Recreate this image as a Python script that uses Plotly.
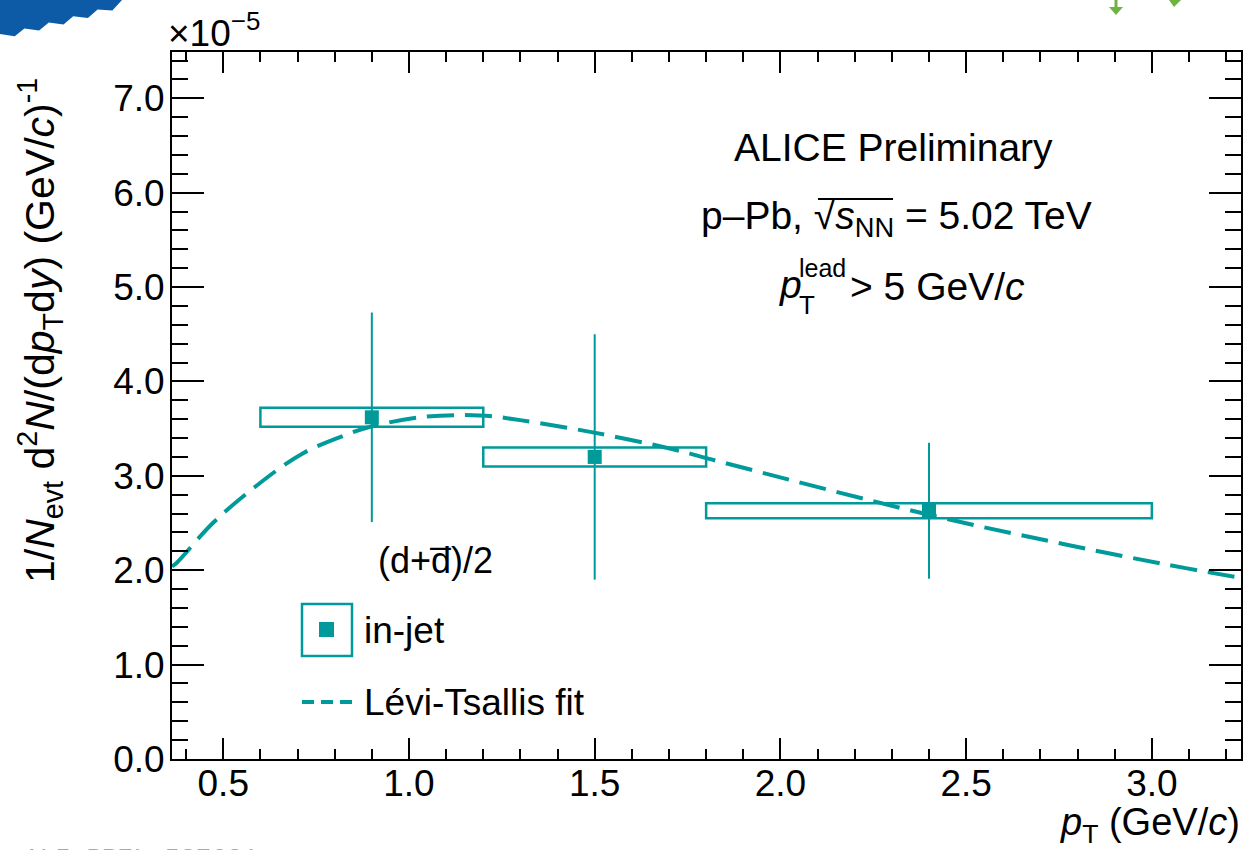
import plotly.graph_objects as go

# ---- data (yields in units of 1e-5 (GeV/c)^-1) ----
pt = [0.9, 1.5, 2.4]
pt_low = [0.6, 1.2, 1.8]
pt_high = [1.2, 1.8, 3.0]
yield_e5 = [3.62, 3.20, 2.63]
stat_err = [1.11, 1.30, 0.72]
syst_err = [0.10, 0.10, 0.08]

# Levy-Tsallis fit curve, sampled
fit_pt = [0.362, 0.375, 0.472, 0.591, 0.715, 0.841, 0.896, 1.029, 1.191,
          1.299, 1.495, 1.702, 1.837, 2.397, 2.771, 3.040, 3.223, 3.240]
fit_y = [2.04, 2.08, 2.50, 2.90, 3.24, 3.45, 3.52, 3.62, 3.64,
         3.59, 3.46, 3.29, 3.15, 2.59, 2.27, 2.06, 1.93, 1.92]

x_ticks = [0.5, 1.0, 1.5, 2.0, 2.5, 3.0]
y_ticks = [0, 1, 2, 3, 4, 5, 6, 7]

TEAL = "#009a9a"
FONT = "Liberation Sans, Arial, sans-serif"

W, H = 1255, 850
L, R, T, B = 172, 1241, 52, 759


def px(x):
    return (x - L) / (R - L)


def py(y):
    return (B - y) / (B - T)


fig = go.Figure()

# fit curve
fig.add_trace(go.Scatter(
    x=fit_pt, y=fit_y, mode="lines",
    line=dict(color=TEAL, width=4, dash="27px,11px", shape="spline"),
    hoverinfo="skip", showlegend=False))

# points with statistical errors
fig.add_trace(go.Scatter(
    x=pt, y=yield_e5, mode="markers",
    marker=dict(symbol="square", size=14, color=TEAL),
    error_y=dict(type="data", array=stat_err, color=TEAL, thickness=2, width=0),
    hoverinfo="skip", showlegend=False))

# systematic boxes
for lo, hi, yv, s in zip(pt_low, pt_high, yield_e5, syst_err):
    fig.add_shape(type="rect", xref="x", yref="y", x0=lo, x1=hi, y0=yv - s, y1=yv + s,
                  line=dict(color=TEAL, width=2.5), fillcolor="rgba(0,0,0,0)", layer="below")

annotations = []


def text(x, y, s, size=37, xanchor="center", yanchor="middle", color="black", family=FONT, angle=0):
    annotations.append(dict(
        x=px(x), y=py(y), xref="paper", yref="paper", text=s, showarrow=False,
        xanchor=xanchor, yanchor=yanchor, textangle=angle,
        font=dict(size=size, color=color, family=family)))


def hline(x0, x1, y, color="black", width=2):
    fig.add_shape(type="line", xref="paper", yref="paper", x0=px(x0), x1=px(x1), y0=py(y), y1=py(y),
                  line=dict(color=color, width=width))


# header texts
text(893, 147, "ALICE Preliminary", size=39)
text(896, 218, "p\u2013Pb, \u221a<i>s</i><sub>NN</sub> = 5.02 TeV", size=39)
hline(818, 893, 199)  # radical bar over s_NN
text(790, 284, "<i>p</i>", size=39)
text(797, 268, "lead", size=25, xanchor="left")
text(797, 305, "T", size=26, xanchor="left")
text(1027, 286, "> 5 GeV/<i>c</i>", size=39, xanchor="right")

# legend
text(435, 560, "(d+d\u0305)/2", size=36)
fig.add_shape(type="rect", xref="paper", yref="paper", x0=px(302), x1=px(352), y0=py(656), y1=py(604),
              line=dict(color=TEAL, width=2.5))
fig.add_shape(type="rect", xref="paper", yref="paper", x0=px(319), x1=px(334), y0=py(637), y1=py(622),
              line=dict(width=0), fillcolor=TEAL)
text(362, 630, "in-jet", size=37, xanchor="left")
fig.add_shape(type="line", xref="paper", yref="paper", x0=px(302), x1=px(352), y0=py(702), y1=py(702),
              line=dict(color=TEAL, width=4, dash="12px,7px"))
text(362, 702, "L\u00e9vi-Tsallis fit", size=37, xanchor="left")

# axis titles and exponent
text(40, 331, "1/<i>N</i><sub>evt</sub> d<sup>2</sup><i>N</i>/(d<i>p</i><sub>T</sub>d<i>y</i>) (GeV/<i>c</i>)<sup>-1</sup>",
     size=41, angle=-90)
text(1242, 825, "<i>p</i><sub>T</sub> (GeV/<i>c</i>)", size=38, xanchor="right")
text(166, 30, "\u00d710<sup>\u22125</sup>", size=37, xanchor="left")

# preliminary figure id
text(22, 842, "ALI-PREL-537631", size=26, xanchor="left", yanchor="top", color="#a8a8a8",
     family="Liberation Mono, Courier New, monospace")

# corner decorations
n = 10
path = "M %f,%f " % (px(0), py(0))
for i in range(n + 1):
    t = i / n
    ex = 122 * t
    ey = 34 * (1 - t) ** 0.8
    dy = 5 if i % 2 else 0
    path += "L %f,%f " % (px(ex + dy * 0.5), py(ey + dy))
path += "L %f,%f Z" % (px(0), py(0))
fig.add_shape(type="path", xref="paper", yref="paper", path=path,
              line=dict(width=0), fillcolor="#0d5aa7")
fig.add_shape(type="line", xref="paper", yref="paper", x0=px(1116), x1=px(1116), y0=py(0), y1=py(8),
              line=dict(color="#6db33f", width=3))
fig.add_shape(type="path", xref="paper", yref="paper",
              path="M %f,%f L %f,%f L %f,%f Z" % (px(1109), py(7), px(1123), py(7), px(1116), py(15)),
              line=dict(width=0), fillcolor="#6db33f")
fig.add_shape(type="path", xref="paper", yref="paper",
              path="M %f,%f L %f,%f L %f,%f Z" % (px(1169), py(0), px(1181), py(0), px(1174), py(7)),
              line=dict(width=0), fillcolor="#6db33f")

axis_common = dict(
    showline=True, linecolor="black", linewidth=2, mirror="allticks",
    ticks="inside", tickcolor="black", tickwidth=2,
    showgrid=False, zeroline=False,
    tickfont=dict(size=37, color="black", family=FONT),
)

fig.update_layout(
    width=W, height=H, autosize=False,
    margin=dict(l=L, r=W - R, t=T, b=H - B),
    paper_bgcolor="white", plot_bgcolor="white",
    showlegend=False,
    annotations=annotations,
    xaxis=dict(range=[0.362, 3.24], tickvals=x_ticks, ticktext=["%.1f" % v for v in x_ticks],
               ticklen=21, ticklabelstandoff=-9,
               minor=dict(dtick=0.1, tick0=0, ticklen=10, tickwidth=2, tickcolor="black",
                          ticks="inside"),
               **axis_common),
    yaxis=dict(range=[0, 7.49], tickvals=y_ticks, ticktext=["%.1f" % v for v in y_ticks],
               ticklen=32, ticklabelstandoff=-2,
               minor=dict(dtick=0.2, tick0=0, ticklen=16, tickwidth=2, tickcolor="black",
                          ticks="inside"),
               **axis_common),
)

fig.write_html("out.html")
